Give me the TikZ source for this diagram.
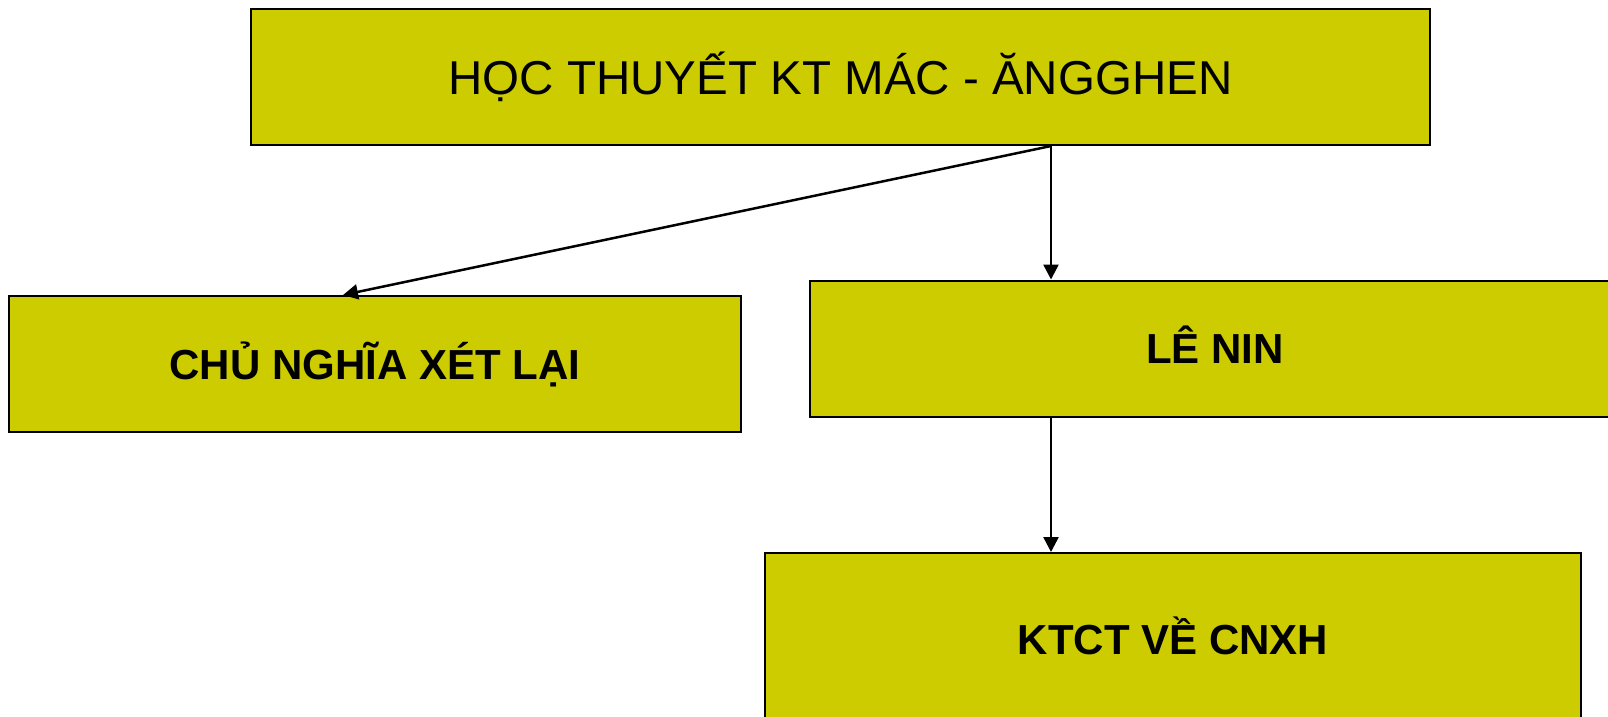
\documentclass[tikz,border=0pt]{standalone}
\usepackage{fontspec}
\setmainfont{Liberation Sans}
\usetikzlibrary{arrows.meta,positioning}

\definecolor{boxfill}{HTML}{CCCC00}

\begin{document}
\begin{tikzpicture}[
    x = 1pt, y = -1pt, % pixel units, y downwards
    > = {Triangle[length=15pt,width=15pt]}, % arrow head style
    line width = 2pt,
    block/.style = {
        draw = black,
        fill = boxfill,
        inner sep = 0pt,
        text depth = 0pt,
        minimum height = 136pt
    },
    title/.style = {font = \fontsize{47.5pt}{50pt}\selectfont, text height = 34pt},
    label/.style = {font = \fontsize{42pt}{44pt}\selectfont\bfseries, text height = 30pt}
    ]
    \useasboundingbox (0,0) rectangle (1608,716);
    \clip (0,0) rectangle (1608,716);

    \node[block, title, minimum width = 1179pt] (hoc) at (840.5,77) {HỌC THUYẾT KT MÁC - ĂNGGHEN};
    \node[block, label, minimum width = 732pt] (xetlai) at (375,364) {CHỦ NGHĨA XÉT LẠI};
    \node[block, label, minimum width = 810pt] (lenin) at (1215,348.5) {LÊ NIN};
    \node[block, label, minimum width = 816pt, minimum height = 172pt] (ktct) at (1173,639) {KTCT VỀ CNXH};

    \coordinate (fork) at ([xshift=210.5pt]hoc.south);
    \coordinate (tip) at ([xshift=-32pt]xetlai.north);

    \draw[->, line width = 2.5pt] (fork) -- (tip);
    \draw[->, line width = 2.5pt] (fork) -- (fork |- lenin.north);
    \draw[->, line width = 2.5pt] (fork |- lenin.south) -- (fork |- ktct.north);
\end{tikzpicture}
\end{document}
